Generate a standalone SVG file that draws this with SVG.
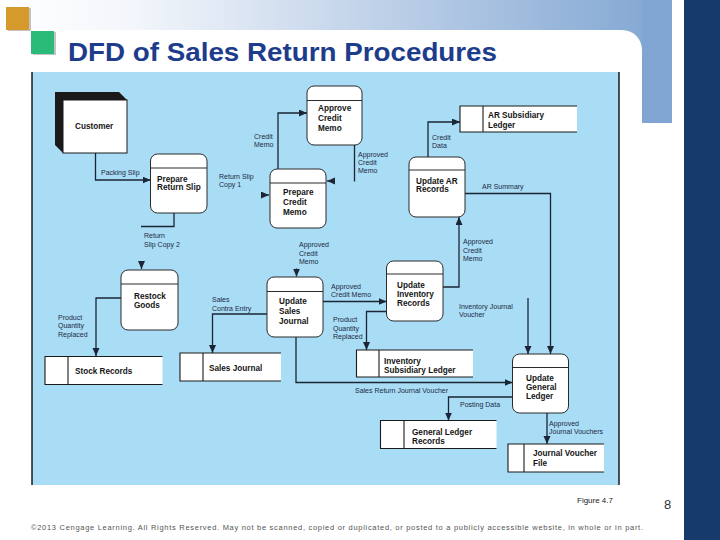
<svg xmlns="http://www.w3.org/2000/svg" width="720" height="540" viewBox="0 0 720 540">
<defs>
<linearGradient id="band" x1="0" y1="0" x2="672" y2="0" gradientUnits="userSpaceOnUse">
<stop offset="0" stop-color="#ffffff"/>
<stop offset="0.2" stop-color="#f3f6fb"/>
<stop offset="1" stop-color="#80a5d2"/>
</linearGradient>
<marker id="arr" markerUnits="userSpaceOnUse" markerWidth="9" markerHeight="8" refX="8" refY="3.5" orient="auto">
<path d="M0,0 L8,3.5 L0,7 Z" fill="#1b2536"/>
</marker>
<style>
.proc{fill:#fff;stroke:#2a2a2a;stroke-width:1}
.div{stroke:#2a2a2a;stroke-width:1;fill:none}
.store{fill:#fff}
.sl{fill:none;stroke:#1a1a1a;stroke-width:1.1}
.nt{font-family:"Liberation Sans",Arial,sans-serif;font-size:8.2px;font-weight:bold;fill:#151515}
.lb{font-family:"Liberation Sans",Arial,sans-serif;font-size:7px;fill:#1d2a44}
.conn{fill:none;stroke:#1b2536;stroke-width:1.3}
.ah{fill:none;stroke:#1b2536;stroke-width:1.3;marker-end:url(#arr)}
</style>
</defs>
<rect x="0" y="0" width="720" height="540" fill="#ffffff"/>
<rect x="0" y="0" width="672" height="52" fill="url(#band)"/>
<rect x="642" y="0" width="30" height="123" fill="#80a5d2"/>
<path d="M0,30 H622 A20,20 0 0 1 642,50 V540 H0 Z" fill="#ffffff"/>
<rect x="684" y="0" width="36" height="540" fill="#163a6b"/>
<rect x="8" y="8" width="23" height="23" fill="#8a8a8a" opacity="0.5"/>
<rect x="6" y="7" width="23" height="23" fill="#d6992b"/>
<rect x="33" y="32" width="23" height="23" fill="#8a8a8a" opacity="0.5"/>
<rect x="31" y="31" width="23" height="23" fill="#2bbb78"/>
<text x="68" y="61" font-family="Liberation Sans,Arial,sans-serif" font-size="26" font-weight="bold" fill="#1e3c8c" textLength="429" lengthAdjust="spacingAndGlyphs">DFD of Sales Return Procedures</text>

<rect x="32" y="72" width="587" height="413" fill="#a9dcf5"/>
<line x1="32" y1="72" x2="32" y2="485" stroke="#1a1a1a" stroke-width="1.5"/>
<line x1="619" y1="72" x2="619" y2="485" stroke="#1a1a1a" stroke-width="1.5"/>

<g id="connectors">
<path class="conn" d="M95.5,153 V180 H150.5" marker-end="url(#arr)"/>
<text class="lb" x="101" y="175">Packing Slip</text>
<path class="ah" d="M261,195 H269"/>
<text class="lb" x="219" y="179">Return Slip</text>
<text class="lb" x="219" y="187">Copy 1</text>
<path class="conn" d="M278,169 V113 H307" marker-end="url(#arr)"/>
<text class="lb" x="254" y="139">Credit</text>
<text class="lb" x="254" y="147">Memo</text>
<path class="conn" d="M354.5,145 V181.5"/>
<path class="ah" d="M335,181 H327"/>
<text class="lb" x="358" y="157">Approved</text>
<text class="lb" x="358" y="165">Credit</text>
<text class="lb" x="358" y="173">Memo</text>
<path class="conn" d="M428,157 V122 H460" marker-end="url(#arr)"/>
<text class="lb" x="432" y="140">Credit</text>
<text class="lb" x="432" y="148">Data</text>
<path class="conn" d="M465,193.5 H550.5 V354" marker-end="url(#arr)"/>
<text class="lb" x="482" y="189">AR Summary</text>
<path class="conn" d="M443,287 H459 V217" marker-end="url(#arr)"/>
<text class="lb" x="463" y="244">Approved</text>
<text class="lb" x="463" y="253">Credit</text>
<text class="lb" x="463" y="261">Memo</text>
<path class="conn" d="M174,213 V226.5 H141"/>
<path class="ah" d="M141.5,261 V269"/>
<text class="lb" x="144" y="238">Return</text>
<text class="lb" x="144" y="247">Slip Copy 2</text>
<path class="conn" d="M121,298 H96 V356" marker-end="url(#arr)"/>
<text class="lb" x="58" y="320">Product</text>
<text class="lb" x="58" y="328">Quantity</text>
<text class="lb" x="58" y="337">Replaced</text>
<path class="conn" d="M267,314 H212.5 V353" marker-end="url(#arr)"/>
<text class="lb" x="212" y="302">Sales</text>
<text class="lb" x="212" y="311">Contra Entry</text>
<path class="ah" d="M296.5,268.5 V276.5"/>
<text class="lb" x="299" y="247">Approved</text>
<text class="lb" x="299" y="256">Credit</text>
<text class="lb" x="299" y="264">Memo</text>
<path class="conn" d="M323,301.5 H386.5" marker-end="url(#arr)"/>
<text class="lb" x="331" y="289">Approved</text>
<text class="lb" x="331" y="297">Credit Memo</text>
<path class="conn" d="M386.5,311.5 H366.5 V350" marker-end="url(#arr)"/>
<text class="lb" x="333" y="322">Product</text>
<text class="lb" x="333" y="331">Quantity</text>
<text class="lb" x="333" y="339">Replaced</text>
<path class="conn" d="M296,337 V382.5 H512.5" marker-end="url(#arr)"/>
<text class="lb" x="355" y="393">Sales Return Journal Voucher</text>
<path class="conn" d="M528,298 V354" marker-end="url(#arr)"/>
<text class="lb" x="459" y="309">Inventory Journal</text>
<text class="lb" x="459" y="317">Voucher</text>
<path class="conn" d="M512.5,397 H448.5 V420.5" marker-end="url(#arr)"/>
<text class="lb" x="460" y="406.5">Posting Data</text>
<path class="conn" d="M547,413 V444" marker-end="url(#arr)"/>
<text class="lb" x="549" y="426">Approved</text>
<text class="lb" x="549" y="434">Journal Vouchers</text>
</g>

<g id="customer">
<polygon points="55,92 119,92 127,100 127,153 63,153 55,145" fill="#1a1a1a"/>
<rect x="63" y="100" width="64" height="53" fill="#fff" stroke="#1a1a1a" stroke-width="1"/>
<text class="nt" x="75" y="129">Customer</text>
</g>
<g id="prepare-return-slip">
<rect class="proc" x="150.5" y="154" width="56.5" height="59" rx="7"/>
<line class="div" x1="150.5" y1="168" x2="207" y2="168"/>
<text class="nt" x="157" y="181.5">Prepare</text>
<text class="nt" x="157" y="190">Return Slip</text>
</g>
<g id="prepare-credit-memo">
<rect class="proc" x="270" y="169" width="56" height="59" rx="7"/>
<line class="div" x1="270" y1="183" x2="326" y2="183"/>
<text class="nt" x="283" y="195">Prepare</text>
<text class="nt" x="283" y="205">Credit</text>
<text class="nt" x="283" y="215">Memo</text>
</g>
<g id="approve-credit-memo">
<rect class="proc" x="307" y="86" width="55" height="59" rx="7"/>
<line class="div" x1="307" y1="100.5" x2="362" y2="100.5"/>
<text class="nt" x="318" y="111">Approve</text>
<text class="nt" x="318" y="121">Credit</text>
<text class="nt" x="318" y="131">Memo</text>
</g>
<g id="ar-subsidiary-ledger">
<rect class="store" x="460" y="106" width="117" height="26"/>
<path class="sl" d="M577,106 H460 V132 H577 M483,106 V132"/>
<text class="nt" x="488" y="118">AR Subsidiary</text>
<text class="nt" x="488" y="128" font-weight="normal">Ledger</text>
</g>
<g id="update-ar-records">
<rect class="proc" x="409" y="157" width="56" height="60" rx="7"/>
<line class="div" x1="409" y1="170" x2="465" y2="170"/>
<text class="nt" x="416" y="183.5">Update AR</text>
<text class="nt" x="416" y="192">Records</text>
</g>
<g id="restock-goods">
<rect class="proc" x="121" y="270" width="57" height="60" rx="7"/>
<line class="div" x1="121" y1="284" x2="178" y2="284"/>
<text class="nt" x="134" y="299">Restock</text>
<text class="nt" x="134" y="308">Goods</text>
</g>
<g id="update-sales-journal">
<rect class="proc" x="267" y="277" width="56" height="60" rx="7"/>
<line class="div" x1="267" y1="291.5" x2="323" y2="291.5"/>
<text class="nt" x="279" y="304">Update</text>
<text class="nt" x="279" y="314">Sales</text>
<text class="nt" x="279" y="324">Journal</text>
</g>
<g id="update-inventory-records">
<rect class="proc" x="386.5" y="261" width="56.5" height="60" rx="7"/>
<line class="div" x1="386.5" y1="274" x2="443" y2="274"/>
<text class="nt" x="397" y="288">Update</text>
<text class="nt" x="397" y="297">Inventory</text>
<text class="nt" x="397" y="306">Records</text>
</g>
<g id="update-general-ledger">
<rect class="proc" x="512.5" y="354" width="56" height="59" rx="7"/>
<line class="div" x1="512.5" y1="367.5" x2="568.5" y2="367.5"/>
<text class="nt" x="526" y="381">Update</text>
<text class="nt" x="526" y="390">General</text>
<text class="nt" x="526" y="399">Ledger</text>
</g>
<g id="stock-records">
<rect class="store" x="45" y="356.5" width="117.5" height="28"/>
<path class="sl" d="M162.5,356.5 H45 V384.5 H162.5 M68,356.5 V384.5"/>
<text class="nt" x="75" y="374">Stock Records</text>
</g>
<g id="sales-journal">
<rect class="store" x="180" y="353" width="101" height="28"/>
<path class="sl" d="M281,353 H180 V381 H281 M203,353 V381"/>
<text class="nt" x="209" y="370.5">Sales Journal</text>
</g>
<g id="inventory-subsidiary-ledger">
<rect class="store" x="356.5" y="350" width="116.5" height="27"/>
<path class="sl" d="M473,350 H356.5 V377 H473 M379,350 V377"/>
<text class="nt" x="384" y="363.5">Inventory</text>
<text class="nt" x="384" y="373">Subsidiary Ledger</text>
</g>
<g id="general-ledger-records">
<rect class="store" x="380.5" y="420.5" width="116" height="28"/>
<path class="sl" d="M496.5,420.5 H380.5 V448.5 H496.5 M404,420.5 V448.5"/>
<text class="nt" x="412" y="435">General Ledger</text>
<text class="nt" x="412" y="443.5" font-size="7.5">Records</text>
</g>
<g id="journal-voucher-file">
<rect class="store" x="508" y="444" width="96" height="28"/>
<path class="sl" d="M604,444 H508 V472 H604 M524,444 V472"/>
<text class="nt" x="533" y="456">Journal Voucher</text>
<text class="nt" x="533" y="465.5">File</text>
</g>

<text x="577" y="503" font-family="Liberation Sans,Arial,sans-serif" font-size="7" fill="#222" textLength="36" lengthAdjust="spacingAndGlyphs">Figure 4.7</text>
<text x="664" y="509" font-family="Liberation Sans,Arial,sans-serif" font-size="13" fill="#333">8</text>
<text x="31" y="530" font-family="Liberation Sans,Arial,sans-serif" font-size="7.5" fill="#555" textLength="612" lengthAdjust="spacing">©2013 Cengage Learning. All Rights Reserved. May not be scanned, copied or duplicated, or posted to a publicly accessible website, in whole or in part.</text>
</svg>
